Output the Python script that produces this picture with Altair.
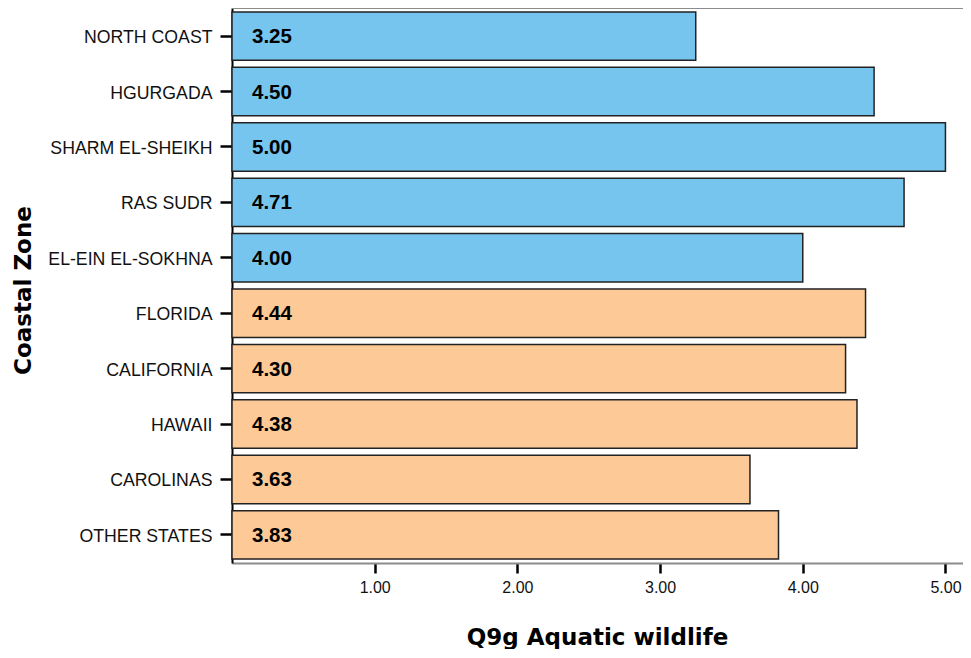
import altair as alt
import pandas as pd

zones = ["NORTH COAST", "HGURGADA", "SHARM EL-SHEIKH", "RAS SUDR", "EL-EIN EL-SOKHNA",
         "FLORIDA", "CALIFORNIA", "HAWAII", "CAROLINAS", "OTHER STATES"]
values = [3.25, 4.50, 5.00, 4.71, 4.00, 4.44, 4.30, 4.38, 3.63, 3.83]
groups = ["Egypt"] * 5 + ["USA"] * 5
x_ticks = [1, 2, 3, 4, 5]

df = pd.DataFrame({"zone": zones, "value": values, "group": groups})

W, H = 731, 555
x_scale = alt.Scale(domain=[0, 5.123], nice=False, zero=True)
y_scale = alt.Scale(domain=zones, paddingInner=0.125, paddingOuter=0.07)

base = alt.Chart(df)

bars = base.mark_bar(stroke="#222222", strokeWidth=1.5).encode(
    x=alt.X("value:Q", scale=x_scale,
            axis=alt.Axis(values=x_ticks, format=".2f", title="Q9g Aquatic wildlife",
                          grid=False, domainColor="#8c8c8c", domainWidth=2,
                          tickColor="#000000", tickWidth=2.5, tickSize=10,
                          labelFont="Liberation Sans", labelFontSize=16, labelColor="#111111",
                          labelPadding=6,
                          titleFont="DejaVu Sans", titleFontSize=23, titleFontWeight="bold",
                          titleColor="#000000", titleX=365, titleY=63,
                          titleAlign="center", titleBaseline="top")),
    y=alt.Y("zone:N", scale=y_scale, sort=zones,
            axis=alt.Axis(title="Coastal Zone", domainColor="#000000", domainWidth=2,
                          tickColor="#000000", tickWidth=2.5, tickSize=12,
                          labelFont="Liberation Sans", labelFontSize=17.7, labelColor="#111111",
                          labelPadding=8, labelOffset=2,
                          titleFont="DejaVu Sans", titleFontSize=23, titleFontWeight="bold",
                          titleColor="#000000", titleX=-202, titleY=282,
                          titleAngle=-90, titleAlign="center", titleBaseline="alphabetic")),
    color=alt.Color("group:N", scale=alt.Scale(domain=["Egypt", "USA"],
                                               range=["#76C5EE", "#FDC996"]), legend=None),
)

labels = base.transform_calculate(zero="0").mark_text(
    align="left", baseline="middle", dx=20, dy=1, font="Liberation Sans",
    fontSize=20.5, fontWeight="bold", color="#000000").encode(
    x=alt.X("zero:Q", scale=x_scale),
    y=alt.Y("zone:N", scale=y_scale, sort=zones),
    text=alt.Text("value:Q", format=".2f"),
)

top_rule = alt.Chart(pd.DataFrame({"a": [0]})).mark_rule(color="#8c8c8c", strokeWidth=2).encode(
    y=alt.value(0), x=alt.value(0), x2=alt.value(W)
)

chart = alt.layer(bars, labels, top_rule).properties(
    width=W, height=H,
    autosize=alt.AutoSizeParams(type="none"),
    padding={"left": 224, "top": 0, "right": 0, "bottom": 86},
).configure_view(stroke=None).configure(background="#ffffff")

chart.save("out.html", embed_options={"renderer": "svg", "actions": False})
